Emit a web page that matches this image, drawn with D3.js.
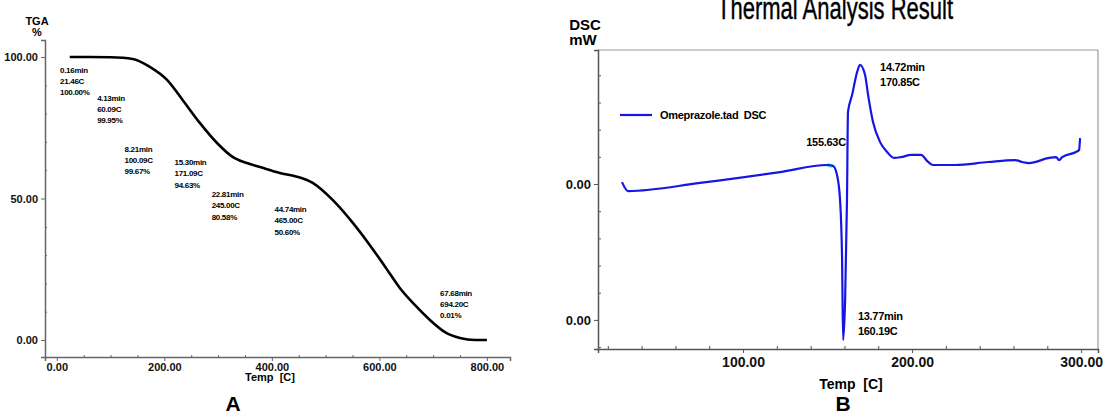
<!DOCTYPE html>
<html>
<meta charset="utf-8">
<head>
  <script src='https://d3js.org/d3.v7.min.js'></script>
  <style>
    body { margin:0; background:#fff; }
    text { font-family: 'Liberation Sans', Arial, sans-serif; white-space: pre; }
  </style>
</head>
<body>
<script>
    // TGA curve (temperature C, weight %)
    var tgaTemp = [24,60,100,141,173,205,234,266,298,327,352,378,415,445,476,513,551,582,610,638,666,694,722,750,778,800];
    var tgaPct  = [100,100,99.9,99.3,96.5,91.9,84.8,76.7,69.6,64.7,62.6,61.1,59.0,57.8,55.5,49.5,41.3,33.6,26.1,18.4,12.4,7.1,2.8,0.7,0,0];
    var tgaXTicks = [0,200,400,600,800];
    var tgaXLabels = ['0.00','200.00','400.00','600.00','800.00'];
    var tgaYTicks = [0,50,100];
    var tgaYLabels = ['0.00','50.00','100.00'];
    // annotation boxes on the TGA plot: [temp, pct] anchor + three lines
    var tgaNotes = [
      {t:6,   p:94.5, lines:['0.16min','21.46C','100.00%']},
      {t:75,  p:84.5, lines:['4.13min','60.09C','99.95%']},
      {t:126, p:66.5, lines:['8.21min','100.09C','99.67%']},
      {t:219, p:61.8, lines:['15.30min','171.09C','94.63%']},
      {t:288, p:50.5, lines:['22.81min','245.00C','80.58%']},
      {t:405, p:45.2, lines:['44.74min','465.00C','50.60%']},
      {t:713, p:15.6, lines:['67.68min','694.20C','0.01%']}
    ];

    // DSC curve (temperature C, signal)
    var dscTemp = [28.4,32.0,74.6,121.9,149.7,153.3,155.6,157.4,158.6,159.2,160.4,161.5,162.1,164.5,167.5,169.2,172.2,174.0,176.9,181.1,185.2,189.3,193.5,199.4,205.3,209.5,212.4,225.4,245.0,260.9,265.1,269.2,281.1,285.2,287.0,288.8,297.0,298.8,299.4];
    var dscVal  = [0.07,-0.26,0.04,0.44,0.70,0.66,0.33,-0.59,-2.79,-5.74,-4.26,-0.59,2.65,3.27,4.12,4.38,4.01,3.27,2.28,1.54,1.18,0.96,0.99,1.07,1.07,0.81,0.70,0.70,0.81,0.88,0.81,0.77,0.96,0.99,0.88,0.99,1.18,1.25,1.69];
    var dscXTicks = [100,200,300];
    var dscXLabels = ['100.00','200.00','300.00'];
    var dscYTicks = [0,-5];
    var dscYLabels = ['0.00','0.00'];
    var dscNotes = [
      {t:181.1, v:4.16, lines:['14.72min','170.85C'], anchor:'start'},
      {t:160.8, v:1.4,  lines:['155.63C'], anchor:'end'},
      {t:168.0, v:-5.0, lines:['13.77min','160.19C'], anchor:'start'}
    ];
    var legendName = 'Omeprazole.tad  DSC';

    var svg = d3.select('body').append('svg').attr('width',1106).attr('height',415);

    // ---------- panel A: TGA ----------
    var xA = d3.scaleLinear().domain([-22,843]).range([45,510]);
    var yA = d3.scaleLinear().domain([-6.0,106]).range([357,40]);
    var gA = svg.append('g');

    var axYA = gA.append('g').attr('transform','translate(45,0)')
        .call(d3.axisLeft(yA).tickValues(tgaYTicks).tickFormat((d,i)=>tgaYLabels[i]).tickSizeOuter(0).tickSize(4));
    gA.append('g').attr('transform','translate(45,0)')
        .call(d3.axisRight(yA).tickValues(d3.range(10,100,10).filter(d=>d!=50)).tickFormat('').tickSize(2).tickSizeOuter(0))
        .select('.domain').remove();
    var axXA = gA.append('g').attr('transform','translate(0,357)')
        .call(d3.axisBottom(xA).tickValues(tgaXTicks).tickFormat((d,i)=>tgaXLabels[i]).tickSizeOuter(0).tickSize(4));
    gA.append('g').attr('transform','translate(0,357)')
        .call(d3.axisTop(xA).tickValues(d3.range(50,800,50).filter(d=>d%200!=0)).tickFormat('').tickSize(2).tickSizeOuter(0))
        .select('.domain').remove();
    gA.selectAll('.domain').attr('stroke','#666').attr('stroke-width',1.5);
    gA.selectAll('.tick line').attr('stroke','#666');
    axYA.selectAll('text').attr('font-size',11).attr('font-weight','bold').attr('fill','#111');
    axXA.selectAll('text').attr('font-size',11).attr('font-weight','bold').attr('fill','#111').attr('dy','0.6em');

    gA.append('text').attr('x',37).attr('y',25).attr('text-anchor','middle')
      .attr('font-size',11).attr('font-weight','bold').text('TGA');
    gA.append('text').attr('x',37).attr('y',36).attr('text-anchor','middle')
      .attr('font-size',11).attr('font-weight','bold').text('%');
    gA.append('text').attr('x',270).attr('y',381).attr('text-anchor','middle')
      .attr('font-size',11).attr('font-weight','bold').text('Temp  [C]');
    gA.append('text').attr('x',233).attr('y',411).attr('text-anchor','middle')
      .attr('font-family','Liberation Serif').attr('font-size',21).attr('font-weight','bold').text('A');

    var tgaData = tgaTemp.map((t,i)=>({t:t, p:tgaPct[i]}));
    gA.append('path').datum(tgaData)
      .attr('fill','none').attr('stroke','#000').attr('stroke-width',2.6)
      .attr('d', d3.line().x(d=>xA(d.t)).y(d=>yA(d.p)).curve(d3.curveMonotoneX));

    tgaNotes.forEach(function(n){
      var tx = gA.append('text').attr('x',xA(n.t)).attr('y',yA(n.p))
        .attr('font-size',8).attr('font-weight','bold').attr('letter-spacing',-0.3);
      n.lines.forEach(function(l,i){
        tx.append('tspan').attr('x',xA(n.t)).attr('dy', i==0?0:11.3).text(l);
      });
    });

    // ---------- panel B: DSC ----------
    var xB = d3.scaleLinear().domain([14.2,310]).range([598,1098]);
    var yB = d3.scaleLinear().domain([-6.07,4.93]).range([349,50]);
    var gB = svg.append('g');

    // frame top / right
    gB.append('line').attr('x1',xB.range()[0]).attr('x2',xB.range()[1]).attr('y1',yB.range()[1]).attr('y2',yB.range()[1])
      .attr('stroke','#999').attr('stroke-width',1.2);
    gB.append('line').attr('x1',xB.range()[1]).attr('x2',xB.range()[1]).attr('y1',yB.range()[1]).attr('y2',yB.range()[0])
      .attr('stroke','#999').attr('stroke-width',1.2);

    var axYB = gB.append('g').attr('transform','translate(598,0)')
        .call(d3.axisLeft(yB).tickValues(dscYTicks).tickFormat((d,i)=>dscYLabels[i]).tickSizeOuter(0).tickSize(4));
    gB.append('g').attr('transform','translate(598,0)')
        .call(d3.axisRight(yB).tickValues(d3.range(-6,5,1).filter(d=>d!=0 && d!=-5)).tickFormat('').tickSize(3).tickSizeOuter(0))
        .select('.domain').remove();
    var axXB = gB.append('g').attr('transform','translate(0,349)')
        .call(d3.axisBottom(xB).tickValues(dscXTicks).tickFormat((d,i)=>dscXLabels[i]).tickSizeOuter(0).tickSize(4));
    gB.append('g').attr('transform','translate(0,349)')
        .call(d3.axisTop(xB).tickValues(d3.range(20,310,20).filter(d=>d%100!=0)).tickFormat('').tickSize(3).tickSizeOuter(0))
        .select('.domain').remove();
    gB.selectAll('.domain').attr('stroke','#555').attr('stroke-width',1.5);
    gB.selectAll('.tick line').attr('stroke','#555');
    axYB.selectAll('text').attr('font-size',13).attr('font-weight','bold').attr('fill','#111');
    axXB.selectAll('text').attr('font-size',14).attr('font-weight','bold').attr('fill','#111').attr('dy','0.8em');

    gB.append('text').attr('x',835).attr('y',19).attr('text-anchor','middle')
      .attr('font-size',31).attr('textLength',236).attr('lengthAdjust','spacingAndGlyphs')
      .attr('stroke','#000').attr('stroke-width',0.4)
      .text('Thermal Analysis Result');
    gB.append('text').attr('x',585).attr('y',30).attr('text-anchor','middle')
      .attr('font-size',15).attr('font-weight','bold').text('DSC');
    gB.append('text').attr('x',583).attr('y',45).attr('text-anchor','middle')
      .attr('font-size',15).attr('font-weight','bold').text('mW');
    gB.append('text').attr('x',851).attr('y',389).attr('text-anchor','middle')
      .attr('font-size',14).attr('font-weight','bold').text('Temp  [C]');
    gB.append('text').attr('x',843).attr('y',411).attr('text-anchor','middle')
      .attr('font-family','Liberation Serif').attr('font-size',21).attr('font-weight','bold').text('B');

    // legend
    gB.append('line').attr('x1',620).attr('x2',652).attr('y1',115).attr('y2',115)
      .attr('stroke','#1515e6').attr('stroke-width',2.2);
    gB.append('text').attr('x',660).attr('y',119).attr('font-size',11).attr('font-weight','bold')
      .attr('letter-spacing',-0.3).text(legendName);

    var dscData = dscTemp.map((t,i)=>({t:t, v:dscVal[i]}));
    // onset highlight
    gB.append('path').datum(dscData.filter(d=>d.t>=148 && d.t<=154))
      .attr('fill','none').attr('stroke','#5ff').attr('stroke-width',4)
      .attr('d', d3.line().x(d=>xB(d.t)).y(d=>yB(d.v)));
    gB.append('path').datum(dscData)
      .attr('fill','none').attr('stroke','#1515e6').attr('stroke-width',2.2)
      .attr('stroke-linejoin','round')
      .attr('d', d3.line().x(d=>xB(d.t)).y(d=>yB(d.v)).curve(d3.curveMonotoneX));

    dscNotes.forEach(function(n){
      var tx = gB.append('text').attr('x',xB(n.t)).attr('y',yB(n.v))
        .attr('font-size',11).attr('font-weight','bold').attr('letter-spacing',-0.3)
        .attr('text-anchor',n.anchor);
      n.lines.forEach(function(l,i){
        tx.append('tspan').attr('x',xB(n.t)).attr('dy', i==0?0:15).text(l);
      });
    });
</script>
</body>
</html>
